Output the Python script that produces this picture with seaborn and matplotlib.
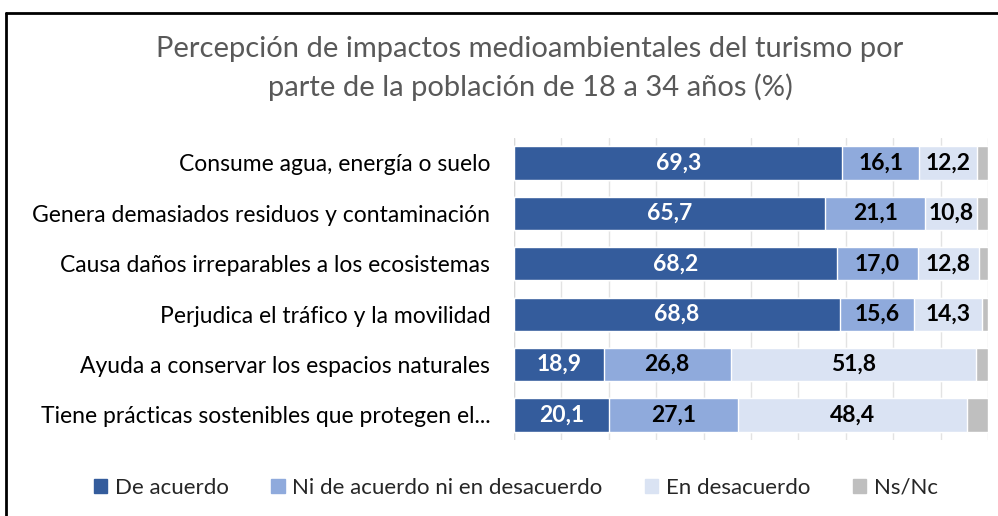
import seaborn as sns
import matplotlib.pyplot as plt
import matplotlib.patches as mpatches
import pandas as pd
import numpy as np

categorias = ["Consume agua, energía o suelo",
              "Genera demasiados residuos y contaminación",
              "Causa daños irreparables a los ecosistemas",
              "Perjudica el tráfico y la movilidad",
              "Ayuda a conservar los espacios naturales",
              "Tiene prácticas sostenibles que protegen el..."]
de_acuerdo = [69.3, 65.7, 68.2, 68.8, 18.9, 20.1]
ni_ni = [16.1, 21.1, 17.0, 15.6, 26.8, 27.1]
en_desacuerdo = [12.2, 10.8, 12.8, 14.3, 51.8, 48.4]
ns_nc = [2.4, 2.4, 2.0, 1.3, 2.5, 4.4]

series = ["De acuerdo", "Ni de acuerdo ni en desacuerdo", "En desacuerdo", "Ns/Nc"]
colores = ["#345C9C", "#8FAADC", "#DAE3F3", "#BFBFBF"]

df = pd.DataFrame({"cat": categorias, series[0]: de_acuerdo, series[1]: ni_ni,
                   series[2]: en_desacuerdo, series[3]: ns_nc})

sns.set_style("white")
plt.rcParams["font.family"] = ["Lato", "DejaVu Sans"]

fig = plt.figure(figsize=(9.98, 5.16), dpi=100)
ax = fig.add_axes([0.515, 0.147, 0.475, 0.586])

# barras apiladas: se dibuja la suma acumulada de mayor a menor
acum = df[series].cumsum(axis=1)
for i in range(len(series) - 1, -1, -1):
    sns.barplot(x=acum[series[i]], y=df["cat"], color=colores[i], orient="h",
                width=0.66, saturation=1, ax=ax, zorder=2)

# etiquetas de valor
for j in range(len(df)):
    izq = 0
    for i, s in enumerate(series[:3]):
        v = df[s][j]
        ax.text(izq + v / 2, j, f"{v:.1f}".replace(".", ","), ha="center", va="center",
                fontsize=16.5, fontweight="bold",
                color="white" if i == 0 else "black", zorder=3)
        izq += v

ax.set_xlim(0, 100)
ax.set_xticks(np.arange(0, 101, 10))
ax.xaxis.grid(True, color="#E3E3E3", linewidth=1, zorder=0)
ax.set_axisbelow(True)
ax.tick_params(axis="x", labelbottom=False, length=0)
ax.tick_params(axis="y", length=0, labelsize=16.5, pad=17, colors="#000000")
ax.set_xlabel("")
ax.set_ylabel("")
for sp in ax.spines.values():
    sp.set_visible(False)
ax.axvline(0, color="#D9D9D9", linewidth=1, zorder=1)

fig.suptitle("Percepción de impactos medioambientales del turismo por\nparte de la población de 18 a 34 años (%)",
             x=0.531, y=0.93, fontsize=21, color="#595959", linespacing=1.5)

handles = [mpatches.Patch(color=c, label=s) for s, c in zip(series, colores)]
fig.legend(handles=handles, loc="center", bbox_to_anchor=(0.517, 0.055), ncol=4,
           frameon=False, fontsize=16, handlelength=0.6, handleheight=0.6,
           handletextpad=0.35, columnspacing=1.9)

# marco
fig.add_artist(plt.Line2D([0.006, 0.006], [0, 0.975], color="black", linewidth=2,
                          transform=fig.transFigure))
fig.add_artist(plt.Line2D([0.006, 1.0], [0.975, 0.975], color="black", linewidth=2,
                          transform=fig.transFigure))

fig.savefig("out.png", dpi=100)
